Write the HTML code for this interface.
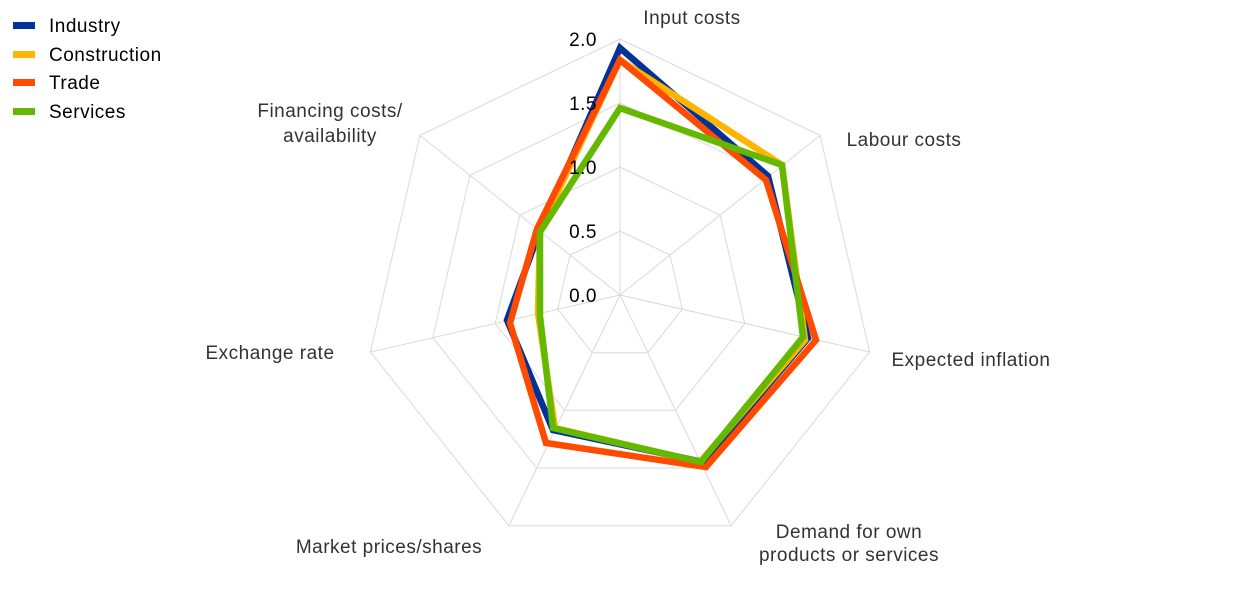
<!DOCTYPE html>
<html><head><meta charset="utf-8"><style>
body{margin:0;background:#fff;width:1240px;height:590px;overflow:hidden}
svg text{font-family:"Liberation Sans",sans-serif;font-size:19px;letter-spacing:0.5px;fill:#333}
</style></head><body>
<svg width="1240" height="590" viewBox="0 0 1240 590">
<g fill="none" stroke="#d9d9d9" stroke-width="1">
<polygon points="620,231 670,255.1 682.4,309.2 647.8,352.7 592.2,352.7 557.6,309.2 570,255.1"/>
<polygon points="620,167 720.1,215.2 744.8,323.5 675.5,410.3 564.5,410.3 495.2,323.5 519.9,215.2"/>
<polygon points="620,103 770.1,175.3 807.2,337.7 703.3,468 536.7,468 432.8,337.7 469.9,175.3"/>
<polygon points="620,39 820.1,135.4 869.6,352 731.1,525.7 508.9,525.7 370.4,352 419.9,135.4"/>
<path d="M620,295L620,39M620,295L820.1,135.4M620,295L869.6,352M620,295L731.1,525.7M620,295L508.9,525.7M620,295L370.4,352M620,295L419.9,135.4"/>
</g>
<g fill="none" stroke-width="6.5" stroke-linejoin="miter">
<polygon stroke="#003299" points="620,48 768,176 808,338 703,462 553,430 507,320 540,230"/>
<polygon stroke="#ffb400" points="620,60 782,165 805,340 700,462 555,428 538,313 540,230"/>
<polygon stroke="#ff4b00" points="620,60 766,180 816,340 706,467 546,443 510,323 537,229"/>
<polygon stroke="#65b800" points="620,108 782,165 803,337 701,462 553,428 540,316 540,232"/>
</g>
<g text-anchor="end">
<text x="597" y="46" style="fill:#000">2.0</text>
<text x="597" y="110" style="fill:#000">1.5</text>
<text x="597" y="174" style="fill:#000">1.0</text>
<text x="597" y="238" style="fill:#000">0.5</text>
<text x="597" y="302" style="fill:#000">0.0</text>
</g>
<text x="692" y="24" text-anchor="middle">Input costs</text>
<text x="904" y="146" text-anchor="middle">Labour costs</text>
<text x="971" y="366" text-anchor="middle">Expected inflation</text>
<text x="849" y="538" text-anchor="middle">Demand for own</text>
<text x="849" y="561" text-anchor="middle">products or services</text>
<text x="389" y="553" text-anchor="middle">Market prices/shares</text>
<text x="270" y="359" text-anchor="middle">Exchange rate</text>
<text x="330" y="117" text-anchor="middle">Financing costs/</text>
<text x="330" y="142" text-anchor="middle">availability</text>
<rect x="13" y="22" width="22" height="7" fill="#003299"/>
<rect x="13" y="51" width="22" height="7" fill="#ffb400"/>
<rect x="13" y="79" width="22" height="7" fill="#ff4b00"/>
<rect x="13" y="108" width="22" height="7" fill="#65b800"/>
<text x="49" y="32" style="fill:#000">Industry</text>
<text x="49" y="61" style="fill:#000">Construction</text>
<text x="49" y="89" style="fill:#000">Trade</text>
<text x="49" y="118" style="fill:#000">Services</text>
</svg>
</body></html>
